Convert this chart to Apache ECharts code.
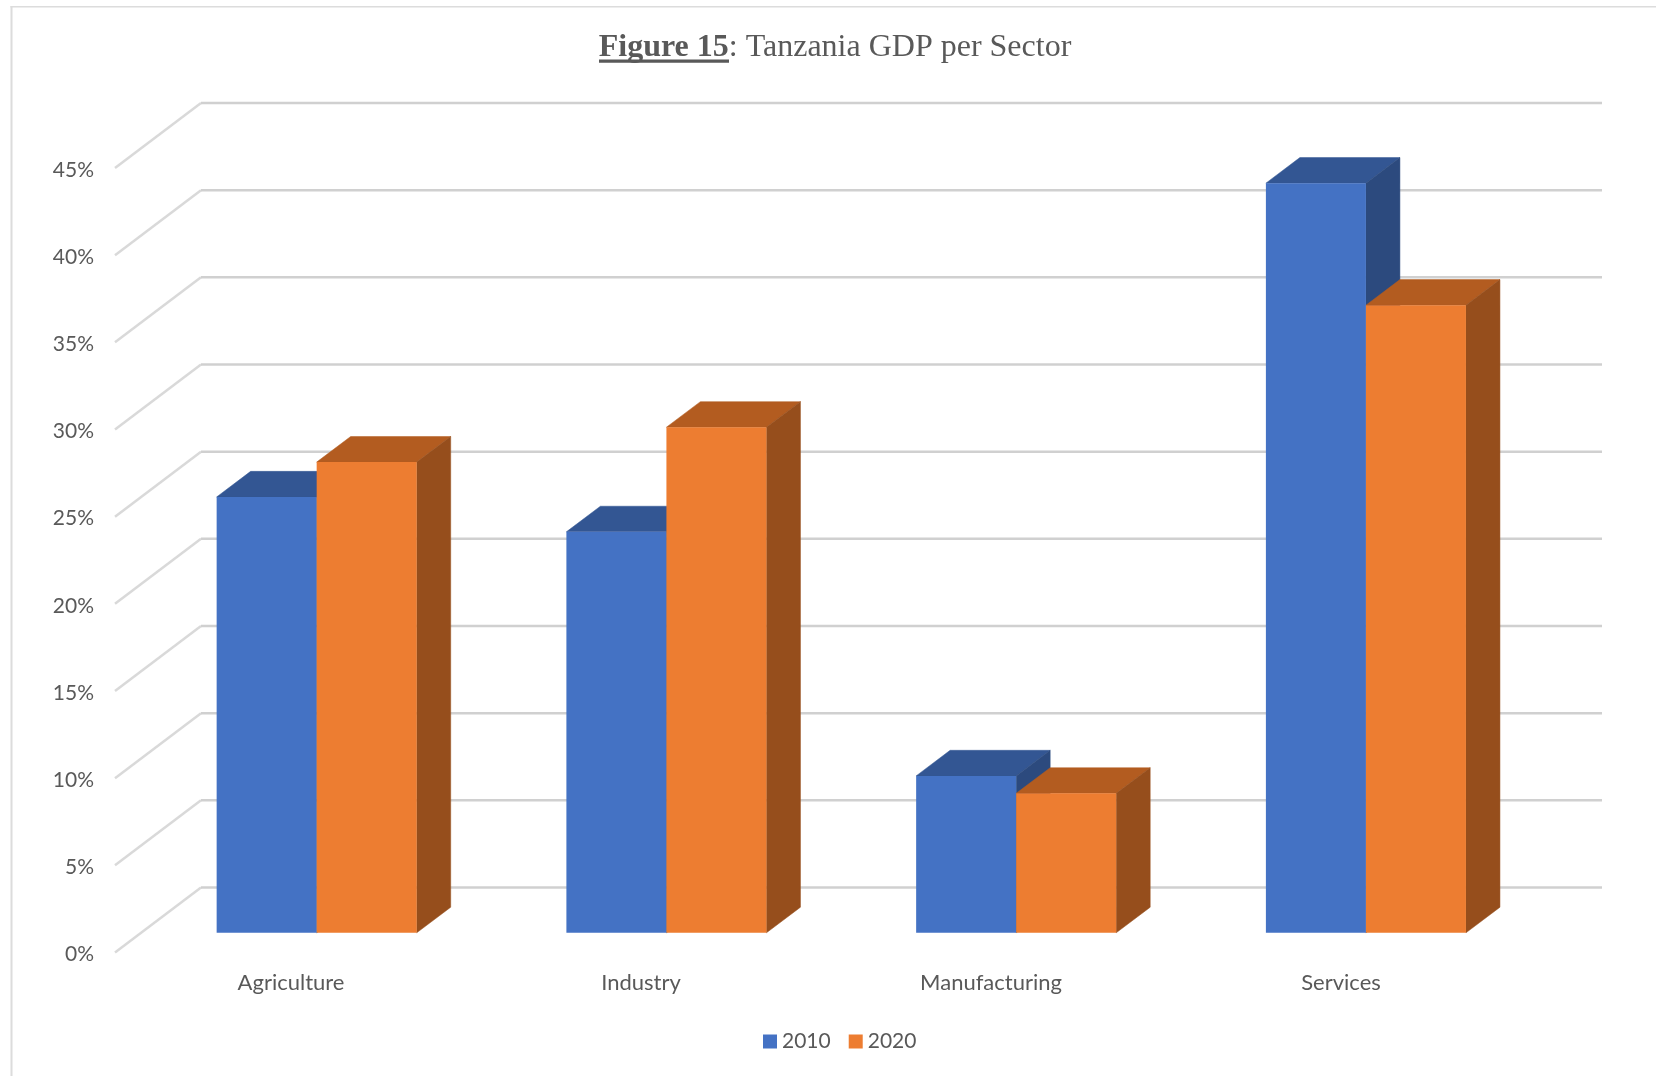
<!DOCTYPE html>
<html><head><meta charset="utf-8">
<style>html,body{margin:0;padding:0;background:#fff}#c{width:1656px;height:1076px}</style>
<script src="https://cdn.jsdelivr.net/npm/echarts@6/dist/echarts.min.js"></script>
</head><body><div id="c"></div>
<script>
const categories = ['Agriculture','Industry','Manufacturing','Services'];
const values2010 = [25,23,9,43];
const values2020 = [27,29,8,36];
const yTicks = [0,5,10,15,20,25,30,35,40,45];
const seriesNames = ['2010','2020'];

const DX = 34, DY = 25.6;
const WALL_DX = 86, WALL_DY = 65;
const LINE_SHIFT_X = -1, LINE_SHIFT_Y = -2;
const BAND = 0.286;
const FONT = 'Lato, Carlito, sans-serif';
const TEXT = '#595959';

function poly(points, fill){
  return {type:'polygon', shape:{points}, style:{fill, stroke:fill, lineWidth:0.5}};
}
function depthSeries(name, values, shift, topColor, sideColor, z){
  return {
    type:'custom', name, xAxisIndex:1, yAxisIndex:1, z, silent:true,
    encode:{x:0,y:1},
    data: values.map((v,i)=>[i,v]),
    renderItem(params, api){
      const top = api.coord([api.value(0), api.value(1)]);
      const base = api.coord([api.value(0), 0]);
      const w = api.size([1,0])[0]*BAND;
      const x0 = top[0] + shift*w, x1 = x0 + w;
      return {type:'group', children:[
        poly([[x0,top[1]],[x1,top[1]],[x1+DX,top[1]-DY],[x0+DX,top[1]-DY]], topColor),
        poly([[x1,top[1]],[x1+DX,top[1]-DY],[x1+DX,base[1]-DY],[x1,base[1]]], sideColor)
      ]};
    }
  };
}

const option = {
  animation:false,
  backgroundColor:'#fff',
  textStyle:{fontFamily:FONT},
  title:{
    left:830, top:27, textAlign:'center',
    text:'{b|Figure 15}{n|: Tanzania GDP per Sector}',
    textStyle:{fontWeight:'normal',rich:{
      b:{fontFamily:'Liberation Serif',fontWeight:'bold',fontSize:32,color:'#595959'},
      n:{fontFamily:'Liberation Serif',fontWeight:'normal',fontSize:32,color:'#595959'}
    }}
  },
  legend:{
    data:seriesNames, left:758, top:1026,
    itemWidth:14,itemHeight:14,itemGap:18,
    icon:'rect',
    textStyle:{fontFamily:FONT,fontSize:21,color:TEXT}
  },
  grid:[
    {left:116, top:170, width:1400, height:784.5},
    {left:141.8, top:148.3, width:1399, height:784.5}
  ],
  xAxis:[
    {type:'category',gridIndex:0,data:categories,axisLine:{show:false},axisTick:{show:false},
     axisLabel:{fontFamily:FONT,fontSize:22,color:TEXT,margin:17}},
    {type:'category',gridIndex:1,data:categories,axisLine:{show:false},axisTick:{show:false},axisLabel:{show:false}}
  ],
  yAxis:[
    {type:'value',gridIndex:0,min:0,max:45,interval:5,axisLine:{show:false},axisTick:{show:false},splitLine:{show:false},
     axisLabel:{fontFamily:FONT,fontSize:21,color:TEXT,margin:22,formatter:'{value}%'}},
    {type:'value',gridIndex:1,min:0,max:45,interval:5,axisLine:{show:false},axisTick:{show:false},splitLine:{show:false},axisLabel:{show:false}}
  ],
  series:[
    {type:'custom',name:'wall',xAxisIndex:0,yAxisIndex:0,z:1,silent:true,
     encode:{y:0},
     data:yTicks.map(v=>[v]),
     renderItem(params,api){
       const cs=params.coordSys;
       const y=api.coord([0,api.value(0)])[1]+LINE_SHIFT_Y;
       const x=cs.x+LINE_SHIFT_X;
       return {type:'group',children:[
         {type:'line',shape:{x1:x,y1:y,x2:x+WALL_DX,y2:y-WALL_DY},style:{stroke:'#d9d9d9',lineWidth:2.5}},
         {type:'line',shape:{x1:x+WALL_DX,y1:y-WALL_DY,x2:x+cs.width+WALL_DX+1,y2:y-WALL_DY},style:{stroke:'#d0d0d0',lineWidth:2.5}}
       ]};
     }},
    depthSeries('2010 depth',values2010,-1,'#335693','#2c4a7e',2),
    {type:'bar',name:'2010',xAxisIndex:1,yAxisIndex:1,data:values2010,barWidth:(BAND*100)+'%',barGap:'0%',z:3,
     itemStyle:{color:'#4472c4'}},
    depthSeries('2020 depth',values2020,0,'#b35c20','#964e1c',4),
    {type:'bar',name:'2020',xAxisIndex:1,yAxisIndex:1,data:values2020,barWidth:(BAND*100)+'%',barGap:'0%',z:5,
     itemStyle:{color:'#ed7d31'}}
  ],
  graphic:[
    {type:'rect',shape:{x:599,y:59.5,width:130,height:3.2},style:{fill:'#595959'}},
    {type:'rect',shape:{x:10.5,y:6,width:2,height:1070},style:{fill:'#dcdcdc'}},
    {type:'rect',shape:{x:10.5,y:6,width:1646,height:1.5},style:{fill:'#dcdcdc'}}
  ]
};
echarts.init(document.getElementById('c'),null,{renderer:'canvas'}).setOption(option);
</script></body></html>
